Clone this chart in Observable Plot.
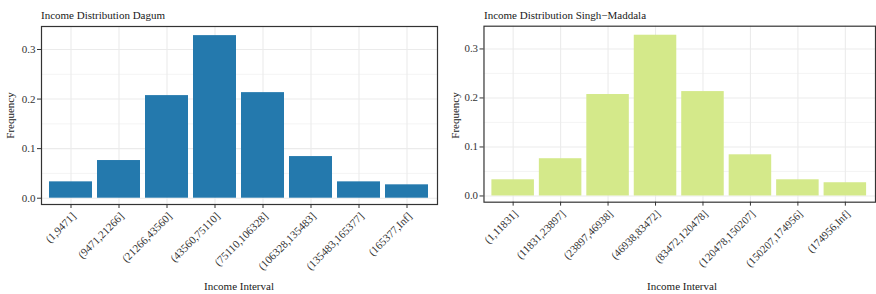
<!DOCTYPE html>
<html><head><meta charset="utf-8">
<script src="https://cdn.jsdelivr.net/npm/d3@7"></script>
<script src="https://cdn.jsdelivr.net/npm/@observablehq/plot@0.6"></script>
<style>
body{margin:0;background:#fff;}
#wrap{position:relative;width:876px;height:294px;overflow:hidden;font-family:"Liberation Serif","Tinos","Times New Roman","Times","Nimbus Roman","Noto Serif","DejaVu Serif",serif;background:#fff;}
.t{position:absolute;font-size:11px;color:#1a1a1a;white-space:nowrap;line-height:11px;}
.c{text-align:center;}
.r{transform:rotate(-90deg);width:100px;text-align:center;}
.p{position:absolute;top:0;}
</style>
</head><body>
<div id="wrap">
  <div class="p" id="left" style="left:0"></div>
  <div class="p" id="right" style="left:438px"></div>
  <div class="t" style="left:41px;top:10px">Income Distribution Dagum</div>
  <div class="t" style="left:484px;top:10px">Income Distribution Singh−Maddala</div>
  <div class="t c" style="left:41px;width:396px;top:281px">Income Interval</div>
  <div class="t c" style="left:484px;width:396px;top:281px">Income Interval</div>
  <div class="t r" style="left:-40px;top:109.5px">Frequency</div>
  <div class="t r" style="left:405px;top:109.5px">Frequency</div>
</div>
<script>
const dagumIntervals = ["(1,9471]","(9471,21266]","(21266,43560]","(43560,75110]","(75110,106328]","(106328,135483]","(135483,165377]","(165377,Inf]"];
const dagumFreq = [0.033, 0.076, 0.207, 0.328, 0.213, 0.084, 0.033, 0.027];
const smIntervals = ["(1,11831]","(11831,23897]","(23897,46938]","(46938,83472]","(83472,120478]","(120478,150207]","(150207,174956]","(174956,Inf]"];
const smFreq = [0.033, 0.076, 0.207, 0.328, 0.213, 0.084, 0.033, 0.027];
const yMajor = [0, 0.1, 0.2, 0.3];
const yMinor = [0.05, 0.15, 0.25];
const FONT = '"Liberation Serif","Tinos","Times New Roman","Times","Nimbus Roman","Noto Serif","DejaVu Serif",serif';

function panel(cats, vals, color, width, ml, mr) {
  const data = cats.map((c, i) => ({interval: c, freq: vals[i]}));
  return Plot.plot({
    width, height: 294,
    marginTop: 26, marginBottom: 90, marginLeft: ml, marginRight: mr,
    style: {fontFamily: FONT, fontSize: "11px", background: "transparent", overflow: "visible"},
    x: {type: "band", domain: cats, paddingInner: 0.1, paddingOuter: 0.15, label: null},
    y: {domain: [-0.0127, 0.3464], label: null},
    marks: [
      Plot.gridY(yMinor, {stroke: "#ebebeb", strokeOpacity: 1, strokeWidth: 0.55}),
      Plot.gridY(yMajor, {stroke: "#ebebeb", strokeOpacity: 1, strokeWidth: 1.1}),
      Plot.gridX({stroke: "#ebebeb", strokeOpacity: 1, strokeWidth: 1.1}),
      Plot.barY(data, {x: "interval", y: "freq", fill: color}),
      Plot.frame({stroke: "#333", strokeWidth: 1.2}),
      Plot.axisY(yMajor, {tickSize: 4, tickPadding: 2, tickFormat: d3.format(".1f"), label: null, stroke: "#333", fill: "#333", fontFamily: FONT}),
      Plot.axisX({tickSize: 4, tickPadding: 3, tickRotate: -45, textAnchor: "end", lineAnchor: "top", label: null, stroke: "#333", fill: "#333", fontFamily: FONT})
    ]
  });
}
document.getElementById("left").append(panel(dagumIntervals, dagumFreq, "#2479ad", 438, 41, 1));
document.getElementById("right").append(panel(smIntervals, smFreq, "#d4e98a", 443, 46, 1));
</script>
</body></html>
